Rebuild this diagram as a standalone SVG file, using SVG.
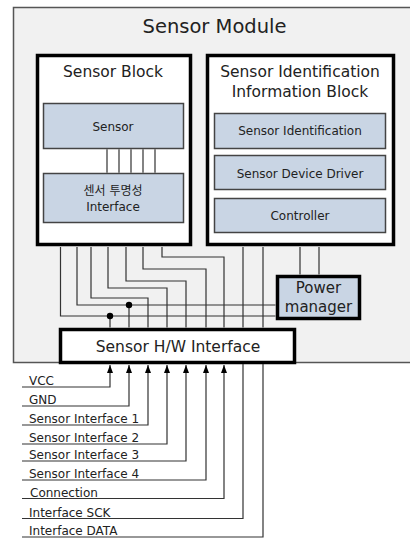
<svg xmlns="http://www.w3.org/2000/svg" width="410" height="538" viewBox="0 0 410 538">
<defs>
<style>
text{font-family:"DejaVu Sans","Liberation Sans",sans-serif;fill:#222;text-anchor:middle}
.blk{fill:#fff;stroke:#000;stroke-width:3.5}
.sub{fill:#c9d5e4;stroke:#444;stroke-width:1.5}
.w{fill:none;stroke:#333;stroke-width:1.2}
.lbl{text-anchor:start;font-size:12px}
.in{font-size:12px}
</style>
<marker id="ah" viewBox="0 0 6 8" refX="3" refY="0" markerWidth="6" markerHeight="8" markerUnits="userSpaceOnUse">
<path d="M0,8 L3,0 L6,8 Z" fill="#000"/>
</marker>
</defs>
<rect width="410" height="538" fill="#fff"/>
<g id="module">
<rect x="13.5" y="7.5" width="410" height="355" fill="#f1f1f1" stroke="#555" stroke-width="1.5"/>
<text x="214.5" y="33" style="font-size:19.5px">Sensor Module</text>
</g>
<g id="sensor-block">
<rect class="blk" x="37.5" y="55.5" width="153" height="189"/>
<text x="113" y="77" style="font-size:15.5px">Sensor Block</text>
</g>
<g id="sensor">
<rect class="sub" x="43.5" y="103.5" width="140" height="45"/>
<text class="in" x="113" y="131">Sensor</text>
</g>
<g id="transparency-interface">
<rect class="sub" x="43.5" y="173.5" width="140" height="49"/>
<text class="in" x="113" y="195" style="font-family:'DejaVu Sans','Noto Sans CJK KR',sans-serif">센서 투명성</text>
<text class="in" x="113" y="211">Interface</text>
</g>
<g id="id-block">
<rect class="blk" x="207.5" y="55.5" width="186" height="189"/>
<text x="300" y="77" style="font-size:15.5px">Sensor Identification</text>
<text x="300" y="97" style="font-size:15.5px">Information Block</text>
</g>
<g id="sensor-identification">
<rect class="sub" x="214.5" y="113.5" width="171" height="35"/>
<text class="in" x="300" y="135">Sensor Identification</text>
</g>
<g id="device-driver">
<rect class="sub" x="214.5" y="155.5" width="171" height="34"/>
<text class="in" x="300" y="178">Sensor Device Driver</text>
</g>
<g id="controller">
<rect class="sub" x="214.5" y="198.5" width="171" height="34"/>
<text class="in" x="300" y="220">Controller</text>
</g>
<g id="power-manager">
<rect x="277.5" y="276.5" width="82" height="42" fill="#c9d5e4" stroke="#000" stroke-width="3.5"/>
<text x="318.5" y="293" style="font-size:15px">Power</text>
<text x="318.5" y="312" style="font-size:15px">manager</text>
</g>
<g id="hw-interface">
<rect class="blk" x="60.5" y="329.5" width="234" height="33"/>
<text x="178" y="352" style="font-size:15.5px">Sensor H/W Interface</text>
</g>
<g id="connectors">
<path class="w" d="M107,149.2V172.8M119,149.2V172.8M131,149.2V172.8M143,149.2V172.8M155,149.2V172.8"/>
<path class="w" d="M60.5,247V316H275.5M77,247V305H275.5M91,247V298H148V327.5M108,247V288H167V327.5M126,247V281H186V327.5M143,247V269H206V327.5M162,247V257H224V327.5M243,247V327.5M263,247V327.5M300,247V274.5M319,247V274.5M110,316V327.5M129,305V327.5"/>
<circle cx="110" cy="316" r="3.2" fill="#000"/>
<circle cx="129" cy="305" r="3.2" fill="#000"/>
<path class="w" marker-end="url(#ah)" d="M22,387H110V365"/>
<path class="w" marker-end="url(#ah)" d="M22,406H129V365"/>
<path class="w" marker-end="url(#ah)" d="M22,425H148V365"/>
<path class="w" marker-end="url(#ah)" d="M22,444H167V365"/>
<path class="w" marker-end="url(#ah)" d="M22,461H186V365"/>
<path class="w" marker-end="url(#ah)" d="M22,480H206V365"/>
<path class="w" marker-end="url(#ah)" d="M22,498.5H224V365"/>
<path class="w" d="M22,518.5H243V364"/>
<path class="w" d="M22,537H263V364"/>
</g>
<g id="labels">
<text class="lbl" x="29" y="385">VCC</text>
<text class="lbl" x="29" y="404">GND</text>
<text class="lbl" x="29" y="423">Sensor Interface 1</text>
<text class="lbl" x="29" y="442">Sensor Interface 2</text>
<text class="lbl" x="29" y="459">Sensor Interface 3</text>
<text class="lbl" x="29" y="478">Sensor Interface 4</text>
<text class="lbl" x="30" y="496.5">Connection</text>
<text class="lbl" x="29" y="516.5">Interface SCK</text>
<text class="lbl" x="29" y="535">Interface DATA</text>
</g>
</svg>
